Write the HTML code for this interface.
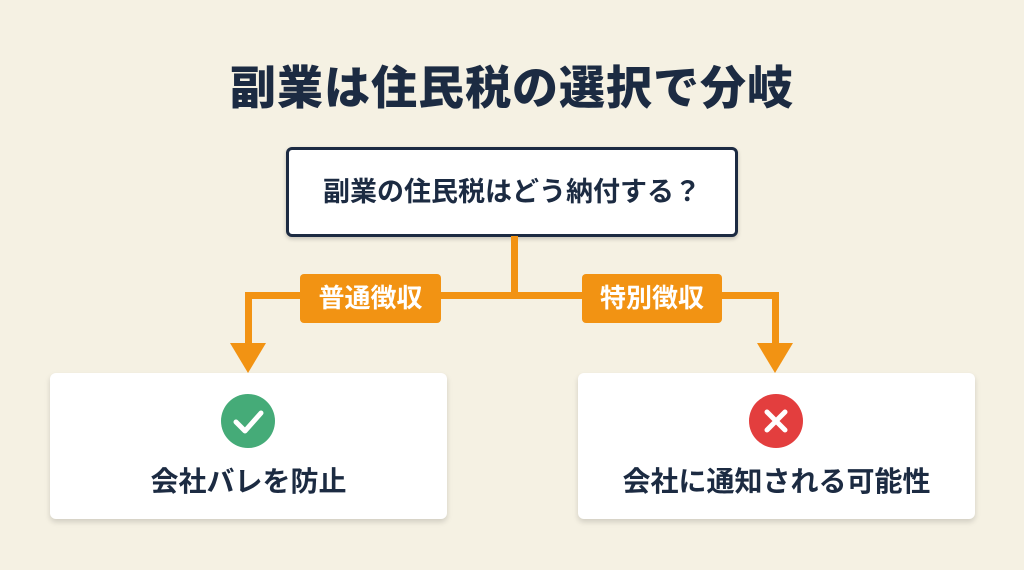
<!DOCTYPE html>
<html><head><meta charset="utf-8"><style>
body{margin:0;width:1024px;height:570px;background:#f5f1e3;position:relative;overflow:hidden;font-family:"Liberation Sans","Noto Sans CJK JP",sans-serif;color:#1c2b42}
.a{position:absolute}
.t{left:0;width:1024px;top:58px;text-align:center;font-size:46px;font-weight:900;letter-spacing:1px;line-height:60px}
.q{left:286px;top:147px;width:446px;height:84px;border:3px solid #1c2b42;border-radius:6px;background:#fff;text-align:center;line-height:84px;font-size:27px;font-weight:700;box-shadow:0 2px 4px rgba(0,0,0,.2)}
.o{background:#f29313}
.l{height:49px;border-radius:4px;color:#fff;font-size:26px;font-weight:700;text-align:center;line-height:49px}
.c{width:397px;height:146px;background:#fff;border-radius:6px;box-shadow:0 3px 6px rgba(0,0,0,.15)}
.c .ic{position:absolute;width:54px;height:54px;border-radius:50%;left:171px;top:21px}
.c .tx{position:absolute;left:0;width:100%;top:92px;text-align:center;font-size:28px;font-weight:700;line-height:34px}
</style></head><body>
<div class="a t">副業は住民税の選択で分岐</div>
<div class="a q">副業の住民税はどう納付する？</div>
<div class="a o" style="left:511px;top:236px;width:7px;height:62px"></div>
<div class="a o" style="left:245px;top:292px;width:534px;height:7px"></div>
<div class="a o" style="left:245px;top:292px;width:7px;height:54px"></div>
<div class="a o" style="left:772px;top:292px;width:7px;height:54px"></div>
<svg class="a" style="left:0;top:0" width="1024" height="570"><polygon points="230,343 266,343 248,373" fill="#f29313"/><polygon points="757,343 793,343 775,373" fill="#f29313"/></svg>
<div class="a o l" style="left:300px;top:274px;width:141px">普通徴収</div>
<div class="a o l" style="left:582px;top:274px;width:140px">特別徴収</div>
<div class="a c" style="left:50px;top:373px"><div class="ic" style="background:#45ab78"><svg width="54" height="54"><polyline points="15,28 24,37 40,19" fill="none" stroke="#fff" stroke-width="5" stroke-linecap="round" stroke-linejoin="round"/></svg></div><div class="tx">会社バレを防止</div></div>
<div class="a c" style="left:578px;top:373px"><div class="ic" style="background:#e33e3e"><svg width="54" height="54"><path d="M18 18L36 36M36 18L18 36" stroke="#fff" stroke-width="5" stroke-linecap="round"/></svg></div><div class="tx">会社に通知される可能性</div></div>
</body></html>
